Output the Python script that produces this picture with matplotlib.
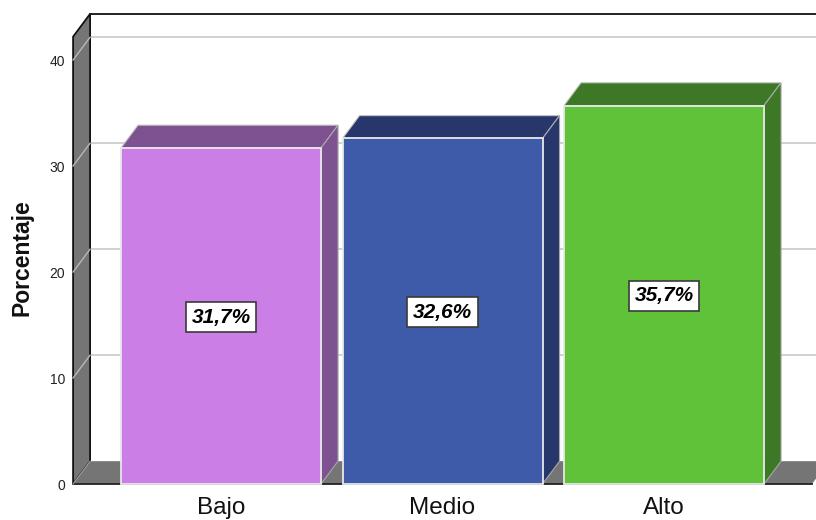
import matplotlib
matplotlib.use("Agg")
import matplotlib.pyplot as plt
from matplotlib.patches import Polygon

plt.rcParams['font.family'] = ['Liberation Sans', 'DejaVu Sans']

categories = ['Bajo', 'Medio', 'Alto']
values = [31.7, 32.6, 35.7]
labels = ['31,7%', '32,6%', '35,7%']
yticks = [0, 10, 20, 30, 40]
front_colors = ['#CB7EE5', '#3E5BA9', '#5FC238']
dark_colors = ['#7E5190', '#27376B', '#3C7825']

# depth of the fake 3d box, in data units
dx = 0.0767
dy = 2.15
bar_w = 0.903
x_left = -0.668
x_right = 2.668
y_top = 42.2

fig = plt.figure(figsize=(8.16, 5.2), dpi=100)
ax = fig.add_axes([0, 0, 1, 1])
ax.set_xlim(-0.998, 2.686)
ax.set_ylim(-3.4, 45.66)
ax.axis('off')

# gridlines: back wall plus diagonal on the side wall
for t in yticks[1:]:
    ax.plot([x_left + dx, 3], [t + dy, t + dy], color='#D0D0D0', lw=1.4, zorder=1)

# left wall
ax.add_patch(Polygon([(x_left, 0), (x_left + dx, dy), (x_left + dx, y_top + dy), (x_left, y_top)],
                     facecolor='#757575', edgecolor='#111111', lw=1.3, zorder=2))
# floor
ax.add_patch(Polygon([(x_left, 0), (x_left + dx, dy), (x_right + dx, dy), (x_right, 0)],
                     facecolor='#757575', edgecolor='none', zorder=2))
ax.plot([x_left, x_right], [0, 0], color='#222222', lw=1.3, zorder=2.5)
ax.plot([x_left + dx, 3], [y_top + dy, y_top + dy], color='#111111', lw=1.3, zorder=2)
ax.plot([x_left, x_left + dx], [0, dy], color='#A0A0A0', lw=0.8, zorder=3)
for t in yticks[1:]:
    ax.plot([x_left, x_left + dx], [t, t + dy], color='#B8B8B8', lw=1, zorder=3)

# bars with top and side faces
for i, v in enumerate(values):
    l = i - bar_w / 2
    r = i + bar_w / 2
    ax.add_patch(Polygon([(l, v), (l + dx, v + dy), (r + dx, v + dy), (r, v)],
                         facecolor=dark_colors[i], edgecolor='#C0C0C0', lw=0.8, zorder=4))
    ax.add_patch(Polygon([(r, 0), (r + dx, dy), (r + dx, v + dy), (r, v)],
                         facecolor=dark_colors[i], edgecolor='#A8A8A8', lw=0.8, zorder=4))
ax.bar(range(3), values, width=bar_w, color=front_colors, edgecolor='#E8E8E8', lw=1.3, zorder=5)

# value labels
for i, v in enumerate(values):
    ax.text(i, v / 2 - 0.1, labels[i], ha='center', va='center', fontsize=15, fontweight='bold',
            style='italic', color='black', zorder=6,
            bbox=dict(boxstyle='square,pad=0.27', fc='white', ec='#3A3A3A', lw=1.2))

# tick labels
for t in yticks:
    ax.text(x_left - 0.035, t - 0.2, str(t), ha='right', va='center', fontsize=10, color='#222222')
for i, c in enumerate(categories):
    ax.text(i, -2.3, c, ha='center', va='center', fontsize=17.5, color='#111111')

ax.text(-0.9, 21.4, 'Porcentaje', rotation=90, ha='center', va='center',
        fontsize=16.5, fontweight='bold', color='#111111')

fig.savefig('out.png', dpi=100)
